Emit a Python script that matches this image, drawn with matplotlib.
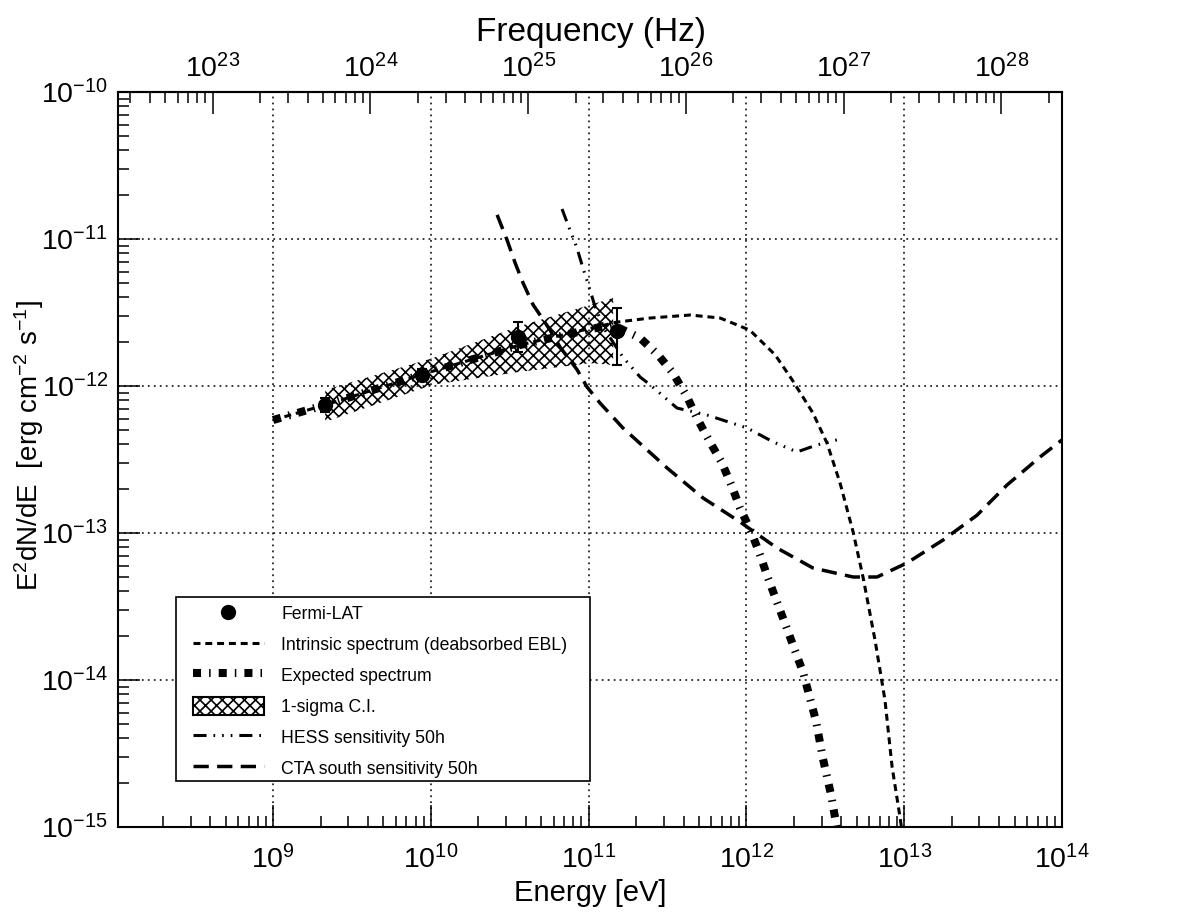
import numpy as np
import matplotlib
matplotlib.use('Agg')
import matplotlib.pyplot as plt
from matplotlib.lines import Line2D
from matplotlib.patches import Patch, Rectangle
from matplotlib.ticker import FixedLocator, NullFormatter

plt.rcParams['font.family'] = ['Liberation Sans', 'DejaVu Sans']
plt.rcParams['mathtext.fontset'] = 'custom'
plt.rcParams['mathtext.rm'] = 'Liberation Sans'
plt.rcParams['mathtext.it'] = 'Liberation Sans:italic'
plt.rcParams['mathtext.bf'] = 'Liberation Sans:bold'
plt.rcParams['mathtext.default'] = 'regular'
plt.rcParams['lines.scale_dashes'] = False
plt.rcParams['hatch.linewidth'] = 1.2

# Fermi-LAT points (E [eV], E^2dN/dE [erg cm^-2 s^-1])
fermi_e = [2.14e9, 8.8e9, 3.57e10, 1.51e11]
fermi_f = [7.43e-13, 1.19e-12, 2.15e-12, 2.37e-12]
fermi_lo = [6.65e-13, 1.08e-12, 1.70e-12, 1.39e-12]
fermi_hi = [8.28e-13, 1.30e-12, 2.72e-12, 3.40e-12]

# 1-sigma butterfly
bf_e = [2.14e9, 1.03e10, 3.5e10, 1.02e11, 1.43e11]
bf_lo = [5.7e-13, 1.02e-12, 1.24e-12, 1.43e-12, 1.39e-12]
bf_hi = [9.4e-13, 1.55e-12, 2.52e-12, 3.56e-12, 3.97e-12]

# intrinsic spectrum (EBL deabsorbed)
intr_e = [1.0e9, 2.14e9, 9.9e9, 3.67e10, 1.51e11, 2.45e11, 4.40e11, 6.81e11,
          1.05e12, 1.52e12, 1.95e12, 2.64e12, 3.24e12, 3.92e12, 4.74e12,
          5.48e12, 6.53e12, 7.55e12, 8.38e12, 9.40e12, 9.9e12]
intr_f = [5.87e-13, 7.43e-13, 1.245e-12, 1.90e-12, 2.72e-12, 2.90e-12, 3.04e-12,
          2.90e-12, 2.40e-12, 1.63e-12, 1.10e-12, 6.55e-13, 4.09e-13, 2.19e-13,
          1.02e-13, 5.02e-14, 1.87e-14, 7.31e-15, 2.56e-15, 1.17e-15, 8.0e-16]

# expected (absorbed) spectrum
exp_e = [1.0e9, 2.14e9, 9.9e9, 3.67e10, 1.4e11, 2.12e11, 2.75e11, 3.43e11,
         4.21e11, 4.86e11, 5.87e11, 7.00e11, 8.11e11, 9.10e11, 1.08e12,
         1.22e12, 1.37e12, 1.78e12, 2.29e12, 2.76e12, 3.05e12, 3.44e12, 3.8e12]
exp_f = [5.87e-13, 7.43e-13, 1.245e-12, 1.90e-12, 2.62e-12, 2.12e-12, 1.63e-12,
         1.22e-12, 8.41e-13, 6.05e-13, 4.16e-13, 2.99e-13, 2.06e-13, 1.48e-13,
         1.0e-13, 7.08e-14, 4.94e-14, 2.33e-14, 1.12e-14, 5.26e-15, 2.94e-15,
         1.65e-15, 9.0e-16]

# HESS sensitivity 50h
hess_e = [6.78e10, 7.40e10, 8.43e10, 9.20e10, 1.02e11, 1.10e11, 1.27e11,
          1.65e11, 2.12e11, 2.45e11, 3.63e11, 5.62e11, 1.01e12, 1.48e12,
          2.09e12, 2.80e12, 3.75e12]
hess_f = [1.60e-11, 1.245e-11, 8.69e-12, 6.35e-12, 4.50e-12, 3.44e-12, 2.40e-12,
          1.57e-12, 1.15e-12, 1.02e-12, 7.08e-13, 6.35e-13, 5.18e-13, 4.16e-13,
          3.56e-13, 3.97e-13, 4.30e-13]

# CTA south sensitivity 50h
cta_e = [2.63e10, 3.04e10, 3.42e10, 3.84e10, 4.45e10, 5.07e10, 5.69e10,
         6.59e10, 8.45e10, 9.77e10, 1.18e11, 1.65e11, 3.14e11, 5.31e11,
         9.10e11, 1.56e12, 2.64e12, 4.74e12, 6.73e12, 1.04e13, 1.76e13,
         2.89e13, 4.48e13, 7.26e13, 1.0e14]
cta_f = [1.46e-11, 9.84e-12, 6.87e-12, 5.02e-12, 3.56e-12, 2.90e-12, 2.40e-12,
         1.84e-12, 1.29e-12, 9.84e-13, 7.66e-13, 5.18e-13, 2.77e-13, 1.73e-13,
         1.19e-13, 7.91e-14, 5.78e-14, 5.02e-14, 5.02e-14, 6.25e-14, 8.95e-14,
         1.32e-13, 2.12e-13, 3.29e-13, 4.30e-13]

EV_TO_HZ = 2.418e14
XLIM = (1.04e8, 1e14)
YLIM = (1e-15, 1e-10)

intr_dash = (5, 3.5)
exp_dash = (5.8, 5.8, 1.1, 5.8)
hess_dash = (9.4, 5, 1.2, 5, 1.2, 5, 1.2, 5)
cta_dash = (11, 6)


def log_ticks(lo, hi):
    """Major and minor log ticks that lie inside [lo, hi]."""
    decades = np.arange(np.floor(np.log10(lo)), np.ceil(np.log10(hi)) + 1)
    major = 10.0 ** decades
    minor = np.outer(10.0 ** decades, np.arange(2, 10)).ravel()
    eps = 1e-9
    keep = lambda v: v[(v >= lo * (1 - eps)) & (v <= hi * (1 + eps))]
    return keep(major), keep(minor)


fig = plt.figure(figsize=(11.82, 9.19), dpi=100)
ax = fig.add_axes([118 / 1182, 1 - 827 / 919, 944 / 1182, 735 / 919])
ax.set_xscale('log')
ax.set_yscale('log')
ax.set_xlim(*XLIM)
ax.set_ylim(*YLIM)

ax.grid(True, which='major', color='black', linestyle=(0, (1.3, 3.0)), linewidth=1.1)

ax.fill_between(bf_e, bf_lo, bf_hi, facecolor='none', edgecolor='black',
                hatch='xxx', linewidth=0, zorder=2)
ax.plot(intr_e, intr_f, color='black', lw=2.2, dashes=intr_dash, zorder=3)
ax.plot(exp_e, exp_f, color='black', lw=5.8, dashes=exp_dash,
        dash_capstyle='butt', zorder=3)
ax.plot(hess_e, hess_f, color='black', lw=2.2, dashes=hess_dash, zorder=3)
ax.plot(cta_e, cta_f, color='black', lw=2.5, dashes=cta_dash, zorder=3)

yerr = [np.array(fermi_f) - np.array(fermi_lo), np.array(fermi_hi) - np.array(fermi_f)]
ax.errorbar(fermi_e, fermi_f, yerr=yerr, fmt='o', color='black', ms=10,
            elinewidth=1.5, capsize=3.5, capthick=1.5, zorder=6)

xmaj, xmin = log_ticks(*XLIM)
ymaj, ymin = log_ticks(*YLIM)
ax.xaxis.set_major_locator(FixedLocator(xmaj))
ax.xaxis.set_minor_locator(FixedLocator(xmin))
ax.yaxis.set_major_locator(FixedLocator(ymaj))
ax.yaxis.set_minor_locator(FixedLocator(ymin))
ax.xaxis.set_minor_formatter(NullFormatter())
ax.yaxis.set_minor_formatter(NullFormatter())

ax.tick_params(which='both', direction='in', top=False, right=False, width=1.1)
ax.tick_params(which='major', length=16)
ax.tick_params(which='minor', length=8)
ax.tick_params(axis='x', labelsize=20.5, pad=13)
ax.tick_params(axis='y', labelsize=20.5, pad=7)
for s in ax.spines.values():
    s.set_linewidth(1.5)

sec = ax.secondary_xaxis('top', functions=(lambda e: e * EV_TO_HZ,
                                           lambda n: n / EV_TO_HZ))
fmaj, fmin = log_ticks(XLIM[0] * EV_TO_HZ, XLIM[1] * EV_TO_HZ)
sec.xaxis.set_major_locator(FixedLocator(fmaj))
sec.xaxis.set_minor_locator(FixedLocator(fmin))
sec.xaxis.set_minor_formatter(NullFormatter())
sec.tick_params(which='both', direction='in', width=1.1, labelsize=20.5, pad=6)
sec.tick_params(which='major', length=16)
sec.tick_params(which='minor', length=8)
sec.spines['top'].set_linewidth(1.5)

fig.text(590 / 1182, 1 - 893 / 919, 'Energy [eV]', fontsize=21,
         ha='center', va='center')
fig.text(591 / 1182, 1 - 33 / 919, 'Frequency (Hz)', fontsize=24,
         ha='center', va='center')
fig.text(29 / 1182, 1 - 445 / 919, r'E$^{2}$dN/dE  [erg cm$^{-2}$ s$^{-1}$]',
         fontsize=20, rotation=90, ha='center', va='center')

# legend box
ax.add_patch(Rectangle((58 / 944, 46 / 735), 414 / 944, 184 / 735,
                       transform=ax.transAxes, facecolor='white',
                       edgecolor='black', linewidth=1.2, zorder=7))
handles = [
    Line2D([], [], color='black', marker='o', ms=10, linestyle='none'),
    Line2D([], [], color='black', lw=2.2, dashes=intr_dash),
    Line2D([], [], color='black', lw=5.8, dashes=exp_dash, dash_capstyle='butt'),
    Patch(facecolor='white', edgecolor='black', hatch='xxx', linewidth=1.5),
    Line2D([], [], color='black', lw=2.2, dashes=hess_dash),
    Line2D([], [], color='black', lw=2.5, dashes=cta_dash),
]
labels = ['Fermi-LAT', 'Intrinsic spectrum (deabsorbed EBL)', 'Expected spectrum',
          '1-sigma C.I.', 'HESS sensitivity 50h', 'CTA south sensitivity 50h']
leg = ax.legend(handles, labels, loc='upper left',
                bbox_to_anchor=(75 / 944, 223 / 735), frameon=False,
                fontsize=12.7, borderpad=0, borderaxespad=0,
                handlelength=4.0, handleheight=1.25, handletextpad=1.0,
                labelspacing=0.66)
leg.set_zorder(8)

fig.savefig('out.png', dpi=100)
